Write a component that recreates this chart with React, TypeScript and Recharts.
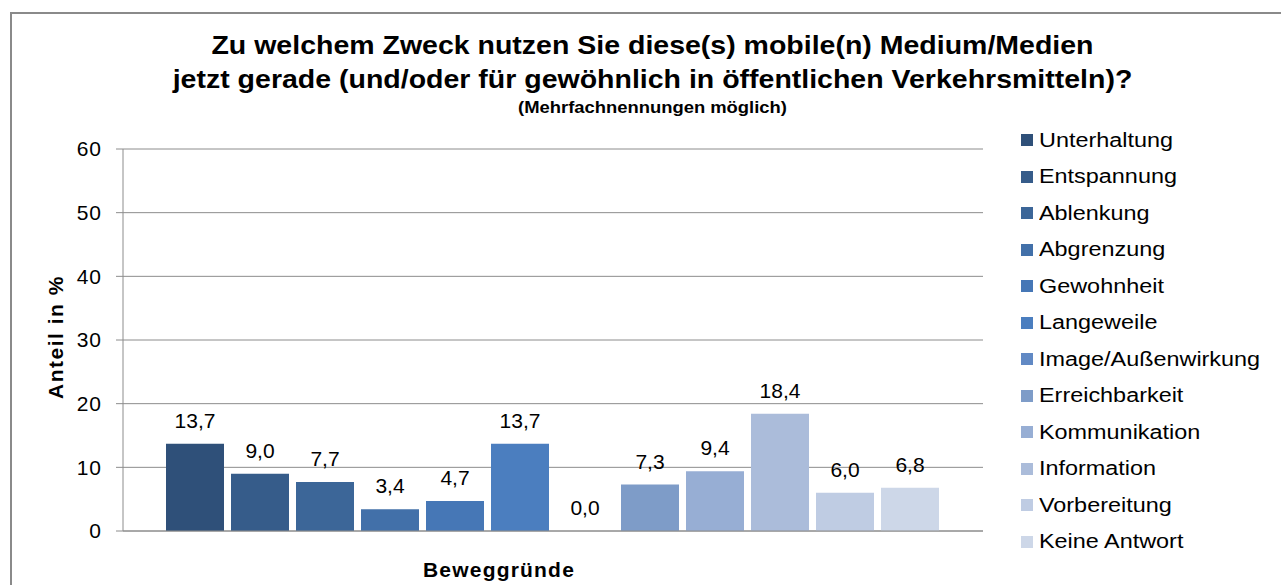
import React from "react"
import { Bar, BarChart, CartesianGrid, LabelList, XAxis, YAxis } from "recharts"

const categories = ["Beweggründe"]
const seriesNames = [
  "Unterhaltung",
  "Entspannung",
  "Ablenkung",
  "Abgrenzung",
  "Gewohnheit",
  "Langeweile",
  "Image/Außenwirkung",
  "Erreichbarkeit",
  "Kommunikation",
  "Information",
  "Vorbereitung",
  "Keine Antwort",
]
const seriesValues = [13.7, 9.0, 7.7, 3.4, 4.7, 13.7, 0.0, 7.3, 9.4, 18.4, 6.0, 6.8]
const seriesColors = [
  "#2f5079",
  "#365c8a",
  "#3c6698",
  "#4270a9",
  "#4677b6",
  "#4b7ebf",
  "#6189c4",
  "#7e9cc8",
  "#97aed4",
  "#abbcda",
  "#bfcce3",
  "#cdd7e8",
]
const yTicks = [0, 10, 20, 30, 40, 50, 60]

const data = categories.map((name) => {
  const row: Record<string, string | number> = { name }
  seriesNames.forEach((s, i) => {
    row[s] = seriesValues[i]
  })
  return row
})

const font = "'Liberation Sans', Arial, sans-serif"

// value label above the bar, also drawn for 0-height bars
function ValueLabel(props: any) {
  const { x, y, width, value } = props
  if (value == null || x == null) return null
  return (
    <text
      x={Number(x) + Number(width) / 2}
      y={Number(y) - 16}
      textAnchor="middle"
      fontFamily={font}
      fontSize={21}
      fill="#000"
    >
      {Number(value).toFixed(1).replace(".", ",")}
    </text>
  )
}

function LegendBox() {
  return (
    <div style={{ fontFamily: font, fontSize: 20, color: "#000" }}>
      {seriesNames.map((s, i) => (
        <div
          key={s}
          style={{ display: "flex", alignItems: "center", height: 36.5 }}
        >
          <div
            style={{
              width: 12,
              height: 12,
              background: seriesColors[i],
              marginRight: 6,
              flexShrink: 0,
            }}
          />
          <span
            style={{
              display: "inline-block",
              whiteSpace: "nowrap",
              transform: "scaleX(1.17)",
              transformOrigin: "left center",
            }}
          >
            {s}
          </span>
        </div>
      ))}
    </div>
  )
}

export default function App() {
  return (
    <div
      style={{
        position: "absolute",
        left: 0,
        top: 0,
        width: 1281,
        height: 585,
        overflow: "hidden",
        background: "#fff",
      }}
    >
      <div
        style={{
          position: "absolute",
          left: 10,
          top: 12,
          width: 1300,
          height: 620,
          border: "2px solid #8a8a8a",
        }}
      />
      <div
        style={{
          position: "absolute",
          left: 0,
          top: 28,
          width: 1305,
          textAlign: "center",
          fontFamily: font,
          fontWeight: "bold",
          color: "#000",
          whiteSpace: "nowrap",
        }}
      >
        <div
          style={{
            fontSize: 25,
            lineHeight: "34px",
            transform: "scaleX(1.14)",
          }}
        >
          Zu welchem Zweck nutzen Sie diese(s) mobile(n) Medium/Medien
        </div>
        <div
          style={{
            fontSize: 25,
            lineHeight: "34px",
            transform: "scaleX(1.14)",
          }}
        >
          jetzt gerade (und/oder für gewöhnlich in öffentlichen Verkehrsmitteln)?
        </div>
        <div
          style={{
            fontSize: 16,
            lineHeight: "20px",
            marginTop: 2,
            transform: "scaleX(1.15)",
          }}
        >
          (Mehrfachnennungen möglich)
        </div>
      </div>
      <div style={{ position: "absolute", left: 1021, top: 122, width: 260 }}>
        <LegendBox />
      </div>
      <div style={{ position: "absolute", left: 0, top: 0 }}>
        <BarChart
          width={1281}
          height={585}
          data={data}
          margin={{ top: 149, right: 298, bottom: 0, left: 43 }}
          barCategoryGap={43}
          barGap={7}
        >
          <CartesianGrid vertical={false} stroke="#8c8c8c" />
          <XAxis
            dataKey="name"
            height={54}
            tick={false}
            tickLine={false}
            stroke="#8c8c8c"
            label={{
              value: "Beweggründe",
              position: "insideBottom",
              dx: -54,
              dy: -8,
              offset: 0,
              style: {
                fontFamily: font,
                fontSize: 21,
                fontWeight: "bold",
                fill: "#000",
                letterSpacing: 1.2,
              },
            }}
          />
          <YAxis
            width={80}
            domain={[0, 60]}
            ticks={yTicks}
            tickSize={7}
            tickMargin={14}
            stroke="#8c8c8c"
            tick={{ fontFamily: font, fontSize: 21, fill: "#000", letterSpacing: 1 }}
            label={{
              value: "Anteil in %",
              angle: -90,
              position: "insideLeft",
              dx: 8,
              dy: -3,
              style: {
                fontFamily: font,
                fontSize: 21,
                fontWeight: "bold",
                fill: "#000",
                textAnchor: "middle",
                letterSpacing: 1.5,
              },
            }}
          />
          {seriesNames.map((s, i) => (
            <Bar
              key={s}
              dataKey={s}
              fill={seriesColors[i]}
              minPointSize={0.01}
              isAnimationActive={false}
            >
              <LabelList dataKey={s} content={<ValueLabel />} />
            </Bar>
          ))}
        </BarChart>
      </div>
    </div>
  )
}
